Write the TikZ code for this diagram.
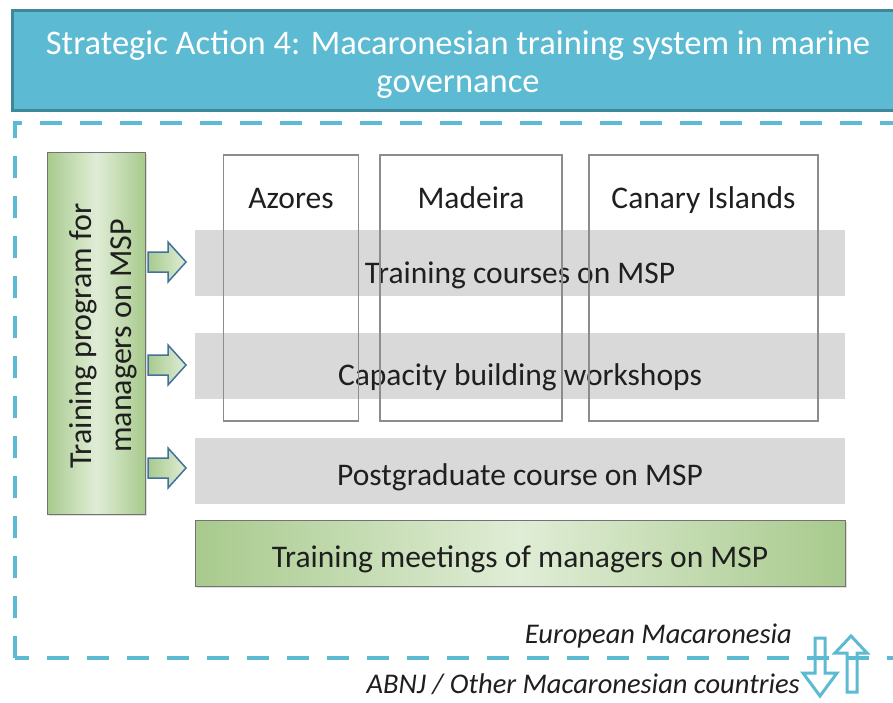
\documentclass[tikz,border=0pt]{standalone}
\usepackage{fontspec}
\setmainfont{Carlito}
\usetikzlibrary{shadows}
\definecolor{teal1}{HTML}{5CBBD2}
\definecolor{tealdark}{HTML}{3F8899}
\definecolor{grayband}{HTML}{D9D9D9}
\definecolor{gedge}{HTML}{A8CA8D}
\definecolor{gmid}{HTML}{E0EDD6}
\definecolor{arrowblue}{HTML}{41719C}
\definecolor{boxgray}{HTML}{8C8C8C}
\begin{document}
\begin{tikzpicture}[x=1pt,y=-1pt,
  bigfont/.style={font=\fontsize{31.5}{38}\selectfont},
  band/.style={fill=grayband, draw=none, minimum width=650pt, minimum height=66pt, inner sep=0pt},
  bandtext/.style={bigfont, text=black!88, anchor=base, inner sep=0pt},
  greenbox/.style={draw=black!55, line width=1pt, left color=gedge, right color=gedge, middle color=gmid, inner sep=0pt, drop shadow={shadow xshift=2pt, shadow yshift=-2pt, opacity=0.25}},
  island/.style={draw=boxgray, line width=1.2pt, fill=none, inner sep=0pt},
  dashline/.style={draw=teal1, line width=4.5pt, dash pattern=on 22pt off 18pt},
  blockarrow/.style={draw=arrowblue, line width=1.5pt, left color=gedge, right color=gmid, line join=miter},
  updown/.style={draw=teal1, line width=3pt, line join=miter},
  note/.style={font=\itshape\fontsize{28.5}{34}\selectfont, text=black!88, anchor=base east, inner sep=0pt}
]
\useasboundingbox (0,0) rectangle (893,702);
\fill[white] (0,0) rectangle (893,702);

% title
\path[fill=teal1, draw=tealdark, line width=3pt, drop shadow={shadow xshift=1pt, shadow yshift=-2pt, opacity=0.25}] (12,10) rectangle (905,110);
\node[text=white, font=\fontsize{34.5}{38}\selectfont, align=center] (title) at (458,65) {Strategic Action 4: Macaronesian training system in marine\\governance};

% dashed region
\draw[dashline] (15,658) -- (15,123) -- (905,123);
\draw[dashline, dash phase=8pt] (15,658) -- (905,658);

% bands
\node[band] (b1) at (520,263) {};
\node[band] (b2) at (520,366) {};
\node[band] (b3) at (520,471) {};
\node[bandtext] (t1) at (520,283) {Training courses on MSP};
\node[bandtext] (t2) at (520,385) {Capacity building workshops};
\node[bandtext] (t3) at (520,485) {Postgraduate course on MSP};

% islands
\node[island, minimum width=135pt, minimum height=266pt] (az) at (291,288) {};
\node[island, minimum width=182pt, minimum height=266pt] (ma) at (471,288) {};
\node[island, minimum width=229pt, minimum height=266pt] (ca) at (703.5,288) {};
\node[bandtext] (azl) at (291,208) {Azores};
\node[bandtext] (mal) at (471,208) {Madeira};
\node[bandtext] (cal) at (703.5,208) {Canary Islands};

% green boxes
\node[greenbox, rotate=90, minimum width=362pt, minimum height=98pt] (prog) at (96,333) {};
\node[rotate=90, align=center, font=\fontsize{32}{40}\selectfont, text=black!88] (progt) at (103,336) {Training program for\\managers on MSP};
\node[greenbox, minimum width=650pt, minimum height=66pt] (meet) at (520,553) {};
\node[bandtext] (meett) at (520,567) {Training meetings of managers on MSP};

% block arrows
\foreach \yy/\nm in {262/a1,365/a2,468/a3}{
  \draw[blockarrow] (148,\yy-10) -- (168,\yy-10) -- (168,\yy-20) -- (186,\yy) -- (168,\yy+20) -- (168,\yy+10) -- (148,\yy+10) -- cycle;
}

% notes
\node[note] (eu) at (792,643) {European Macaronesia};
\node[note] (abnj) at (800,693) {ABNJ / Other Macaronesian countries};

% up/down arrows
\draw[updown] (815,638) -- (825,638) -- (825,673) -- (837,673) -- (820,696) -- (803,673) -- (815,673) -- cycle;
\draw[updown] (847,692) -- (857,692) -- (857,653) -- (867,653) -- (851,636) -- (835,653) -- (847,653) -- cycle;
\end{tikzpicture}
\end{document}
